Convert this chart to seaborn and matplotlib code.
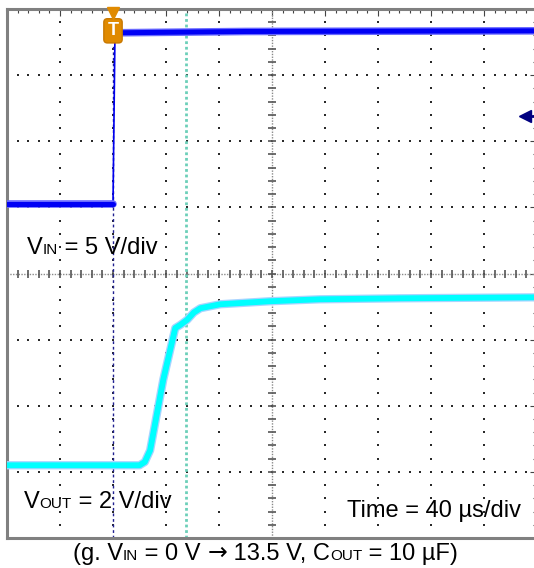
import numpy as np
import pandas as pd
import matplotlib
matplotlib.use("Agg")
import matplotlib.pyplot as plt
import matplotlib.transforms as mtransforms
from matplotlib.ticker import MultipleLocator
import seaborn as sns

# =========================
# DATA
# =========================
# time in microseconds, trigger at t = 0
vin_low_time = [-80, 0]
vin_low_volts = [0.0, 0.0]
vin_high_time = [1.5, 100, 320]
vin_high_volts = [12.95, 13.05, 13.1]

vout_time = [-80, 20, 24, 28, 38, 47, 51, 56, 61, 66, 81, 118, 156, 217, 320]
vout_volts = [0.0, 0.0, 0.1, 0.45, 2.6, 4.15, 4.25, 4.4, 4.62, 4.75, 4.87, 4.96, 5.02, 5.05, 5.08]

# channel settings (divisions on screen)
vin_scale, vin_offset = 5.0, 5.05      # 5 V/div
vout_scale, vout_offset = 2.0, 1.1     # 2 V/div
trig_level = 6.65                      # V on VIN
cursor_time = 55

time_per_div = 40
t_start, t_end = -80, 320

sns.set_style("white")
plt.rcParams["font.family"] = ["Liberation Sans", "DejaVu Sans"]

W, H = 534, 568
fig = plt.figure(figsize=(W / 100, H / 100), dpi=100)
ax = fig.add_axes([7 / W, 1 - 538 / H, 530 / W, 529 / H])

vin_div = lambda v: vin_offset + np.asarray(v) / vin_scale
vout_div = lambda v: vout_offset + np.asarray(v) / vout_scale

# =========================
# GRATICULE
# =========================
grid_t = np.arange(t_start + time_per_div, t_end, time_per_div)
dots_y = np.arange(0, 8.01, 0.2)
for gt in grid_t:
    if gt == 120:
        continue
    ax.scatter(np.full(dots_y.size, gt), dots_y, s=2.5, marker="s",
               color="#2a2a2a", lw=0, zorder=1)
dots_t = np.arange(t_start, t_end + 0.1, time_per_div / 5)
for gy in range(1, 8):
    if gy == 4:
        continue
    ax.scatter(dots_t, np.full(dots_t.size, gy), s=2.5, marker="s",
               color="#2a2a2a", lw=0, zorder=1)

# center crosshair
ax.axvline(120, color="#8a8a8a", lw=1, ls=(0, (1, 1)), zorder=1)
ax.axhline(4, color="#8a8a8a", lw=1, ls=(0, (1, 1)), zorder=1)
ax.plot(np.full(dots_y.size, 120), dots_y, ls="none", marker="_", ms=6,
        mew=1.2, color="#555555", zorder=1)
ax.plot(dots_t, np.full(dots_t.size, 4), ls="none", marker="|", ms=6,
        mew=1.2, color="#555555", zorder=1)

# =========================
# CURSORS / TRIGGER
# =========================
ax.plot([cursor_time, cursor_time], [0, 8], color="#6ccfb9", lw=2,
        ls=(0, (1.0, 1.0)), zorder=2)
ax.plot([0, 0], [0, 7.45], color="#202090", lw=1, ls=(0, (2, 2)), zorder=2)

# =========================
# TRACES
# =========================
vout_df = pd.DataFrame({"t": vout_time, "y": vout_div(vout_volts)})
sns.lineplot(data=vout_df, x="t", y="y", ax=ax, color="#a8d4ff", lw=6,
             estimator=None, sort=False, zorder=3)
sns.lineplot(data=vout_df, x="t", y="y", ax=ax, color="#00ffff", lw=4.2,
             estimator=None, sort=False, zorder=3)

sns.lineplot(x=[vin_low_time[-1], vin_high_time[0]],
             y=[vin_div(vin_low_volts[-1]), vin_div(vin_high_volts[0])],
             ax=ax, color="#0000ee", lw=1.2, estimator=None, sort=False, zorder=4)
for tt, vv in [(vin_low_time, vin_low_volts), (vin_high_time, vin_high_volts)]:
    sns.lineplot(x=tt, y=vin_div(vv), ax=ax, color="#6a6aff", lw=5.5,
                 estimator=None, sort=False, zorder=4)
    sns.lineplot(x=tt, y=vin_div(vv), ax=ax, color="#0000f5", lw=3.6,
                 estimator=None, sort=False, zorder=4)

# trigger marker
ax.text(0, 7.67, "T", ha="center", va="center", color="white", fontsize=13,
        fontweight="bold", zorder=6,
        bbox=dict(boxstyle="round,pad=0.2", fc="#e08a00", ec="#c87800"))
ax.plot([0], [7.94], marker="v", ms=9, color="#e08a00", mec="#e08a00",
        clip_on=False, zorder=6)

# trigger level arrow (right edge)
ax.plot([311, 318], [vin_div(trig_level)] * 2, color="#000080", lw=2, zorder=5)
ax.plot([311], [vin_div(trig_level)], marker="<", ms=8, color="#000080", zorder=5)

# =========================
# AXES STYLE
# =========================
ax.set_xlim(t_start, t_end)
ax.set_ylim(0, 8)
ax.set_xlabel("")
ax.set_ylabel("")
ax.xaxis.set_major_locator(MultipleLocator(time_per_div))
ax.xaxis.set_minor_locator(MultipleLocator(time_per_div / 5))
ax.yaxis.set_major_locator(MultipleLocator(1))
ax.yaxis.set_minor_locator(MultipleLocator(0.2))
ax.tick_params(which="both", direction="in", top=True, right=True,
               labelbottom=False, labelleft=False, color="#444444")
ax.tick_params(which="major", length=5, width=0.8)
ax.tick_params(which="minor", length=3, width=0.8)
for side in ["left", "top", "bottom"]:
    ax.spines[side].set_color("#808080")
    ax.spines[side].set_linewidth(2.2)
ax.spines["right"].set_visible(False)

# =========================
# LABELS
# =========================
renderer = fig.canvas.get_renderer()


def draw_label(pieces, x_px, base_px):
    x = x_px
    for piece in pieces:
        s, size = piece[0], piece[1]
        fam = piece[2] if len(piece) > 2 else ["Liberation Sans", "DejaVu Sans"]
        t = fig.text(x, H - base_px, s, fontsize=size, ha="left", va="baseline",
                     transform=mtransforms.IdentityTransform(), color="black",
                     family=fam)
        x = t.get_window_extent(renderer).x1


big, small = 17, 11
draw_label([("V", big), ("IN", small), (" = 5 V/div", big)], 27, 254)
draw_label([("V", big), ("OUT", small), (" = 2 V/div", big)], 24, 508)
draw_label([("Time = 40 µs/div", big)], 347, 517)
draw_label([("(g. V", big), ("IN", small), (" = 0 V ", big),
            ("→", big, ["DejaVu Sans"]), (" 13.5 V, C", big),
            ("OUT", small), (" = 10 µF)", big)], 73, 560)

fig.savefig("out.png", dpi=100)
